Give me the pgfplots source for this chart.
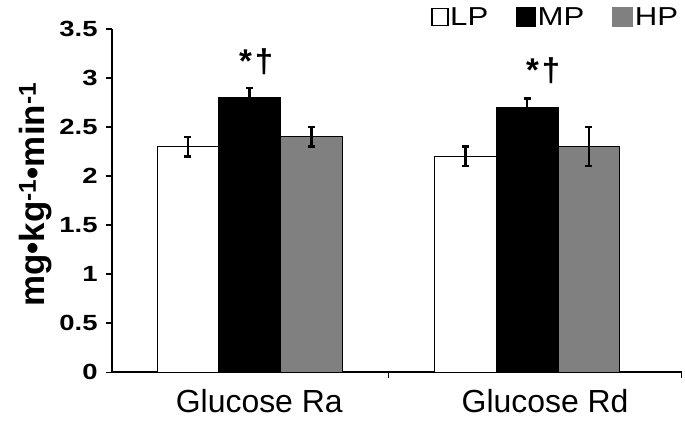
\documentclass[border=0pt]{standalone}
\usepackage{pgfplots}
\pgfplotsset{compat=1.18}
\usepackage{fontspec}
\setmainfont{Liberation Sans}
\definecolor{hpgray}{HTML}{808080}
\begin{document}
\begin{tikzpicture}
\begin{axis}[
  name=ax,
  scale only axis, width=571bp, height=344bp,
  ybar=0pt, bar width=62bp,
  xmin=-0.498, xmax=1.5576, ymin=0, ymax=3.5,
  axis x line*=bottom, axis y line*=left,
  axis line style={line width=2bp, black},
  clip=false,
  ytick={0,0.5,1,1.5,2,2.5,3,3.5},
  yticklabel={\scalebox{1.25}[1]{\pgfmathprintnumber{\tick}}},
  /pgf/number format/assume math mode=true,
  yticklabel style={font=\bfseries\fontsize{22bp}{22bp}\selectfont, inner sep=0pt, xshift=-8bp},
  tick align=outside, major tick length=6bp,
  every tick/.style={line width=1.5bp, black},
  xtick={0.5,1.5576}, xticklabels={},
  extra x ticks={0.034,1.065},
  extra x tick labels={Glucose Ra, Glucose Rd},
  extra x tick style={major tick length=0pt,
     xticklabel style={font=\fontsize{32bp}{32bp}\selectfont, inner sep=0pt, anchor=north, yshift=-17bp}},
  every axis y label/.style={at={(axis description cs:-0.1173,0.517)}, anchor=base, rotate=90,
     font=\bfseries\fontsize{35bp}{35bp}\selectfont},
  ylabel={mg•kg\textsuperscript{-1}•min\textsuperscript{-1}},
  legend columns=3,
  legend style={at={(rel axis cs:0.560,1)}, anchor=south west, yshift=2bp,
     draw=none, fill=none, inner sep=0pt, outer sep=0pt,
     font=\fontsize{26bp}{26bp}\selectfont,
     nodes={inner sep=0pt},
     /tikz/every odd column/.append style={column sep=1.5bp},
     /tikz/every even column/.append style={column sep=28bp}},
  error bars/y dir=both, error bars/y explicit,
  error bars/error bar style={line width=2.8bp, black},
  error bars/error mark options={line width=2.4bp, mark size=3.5bp, black, rotate=90},
]
\addplot[fill=white, draw=black, line width=1bp,
  legend image code/.code={\draw[fill=white, draw=black, line width=1.8bp] (1bp,-8.5bp) rectangle (17bp,8.5bp);}]
  coordinates {(0,2.3) +- (0,0.1) (1,2.2) +- (0,0.1)};
\addlegendentry{\scalebox{1.2}[1]{LP}}
\addplot[fill=black, draw=black, line width=1bp,
  legend image code/.code={\fill[black] (0bp,-9.5bp) rectangle (19bp,9.5bp);}]
  coordinates {(0,2.8) +- (0,0.1) (1,2.7) +- (0,0.09)};
\addlegendentry{\scalebox{1.2}[1]{MP}}
\addplot[fill=hpgray, draw=black, line width=1bp,
  legend image code/.code={\fill[hpgray] (0bp,-9.5bp) rectangle (20bp,9.5bp);}]
  coordinates {(0,2.4) +- (0,0.1) (1,2.3) +- (0,0.2)};
\addlegendentry{\scalebox{1.2}[1]{HP}}
\node[font=\bfseries\fontsize{33bp}{33bp}\selectfont, inner sep=0pt] at (axis cs:0.023,3.17) {*\kern3bp†};
\node[font=\bfseries\fontsize{33bp}{33bp}\selectfont, inner sep=0pt] at (axis cs:1.058,3.07) {*\kern3bp†};
\end{axis}
\path ([xshift=-112bp,yshift=-52bp]ax.south west) rectangle ([xshift=2bp,yshift=29bp]ax.north east);
\end{tikzpicture}
\end{document}
